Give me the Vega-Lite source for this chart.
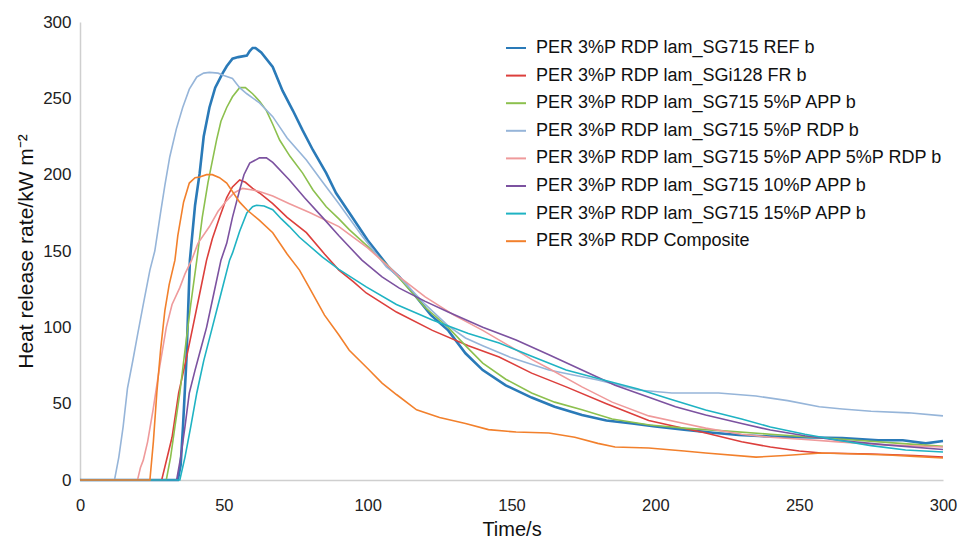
{
"$schema": "https://vega.github.io/schema/vega-lite/v6.json",
"autosize": {"type": "none"},
"padding": {"left": 80, "top": 22, "right": 15, "bottom": 65},
"width": 863,
"height": 458,
"background": "white",
"config": {"view": {"stroke": null}, "font": "Liberation Sans"},
"datasets": {
"REF": [{"t":0,"v":0},{"t":34,"v":0},{"t":35,"v":10},{"t":35.8,"v":35},{"t":37,"v":79},{"t":38.2,"v":144},{"t":40,"v":180},{"t":41.6,"v":201},{"t":43,"v":225},{"t":45,"v":244},{"t":47,"v":257},{"t":49.6,"v":266.5},{"t":51,"v":271},{"t":53,"v":276},{"t":55,"v":277},{"t":58,"v":278},{"t":59,"v":281},{"t":60,"v":283},{"t":61,"v":283},{"t":63,"v":280},{"t":67,"v":270.5},{"t":70.4,"v":255},{"t":74,"v":242},{"t":77.4,"v":229},{"t":81,"v":216},{"t":85.6,"v":201},{"t":89,"v":188},{"t":93.6,"v":175},{"t":100,"v":157},{"t":107.5,"v":139},{"t":111,"v":133},{"t":116,"v":122},{"t":122,"v":108},{"t":128,"v":98},{"t":134,"v":83},{"t":140,"v":72},{"t":148,"v":62},{"t":157,"v":54},{"t":165,"v":48},{"t":174.5,"v":42.6},{"t":183,"v":39},{"t":192,"v":37},{"t":200,"v":35},{"t":210,"v":33},{"t":220,"v":31},{"t":229,"v":29.5},{"t":240,"v":28.5},{"t":250,"v":28},{"t":265,"v":27.5},{"t":277.5,"v":26},{"t":286,"v":26},{"t":294,"v":24},{"t":300,"v":25.5}],
"FR": [{"t":0,"v":0},{"t":28.4,"v":0},{"t":32,"v":28},{"t":34.3,"v":57},{"t":37,"v":80},{"t":39.2,"v":100},{"t":41.6,"v":122},{"t":44,"v":144},{"t":46,"v":158},{"t":48.5,"v":172},{"t":51,"v":185},{"t":53,"v":192},{"t":55.5,"v":196.5},{"t":57.5,"v":195},{"t":60,"v":191},{"t":62.4,"v":188},{"t":67,"v":181},{"t":72,"v":172},{"t":78.7,"v":162},{"t":85,"v":148},{"t":90,"v":137.5},{"t":95,"v":130},{"t":99.5,"v":122.5},{"t":110,"v":110},{"t":122.5,"v":98},{"t":135,"v":88},{"t":145.7,"v":80.6},{"t":157,"v":70},{"t":169,"v":61},{"t":183,"v":50},{"t":197.7,"v":39},{"t":207,"v":35},{"t":217.5,"v":30.8},{"t":230,"v":25},{"t":240,"v":21.6},{"t":250,"v":19},{"t":257.7,"v":17.7},{"t":275,"v":17},{"t":290,"v":16},{"t":300,"v":15}],
"APP5": [{"t":0,"v":0},{"t":30,"v":0},{"t":31.5,"v":15},{"t":33,"v":35},{"t":34.7,"v":57},{"t":36.5,"v":85},{"t":38.5,"v":115},{"t":40.6,"v":144},{"t":42.5,"v":172},{"t":44.5,"v":195},{"t":47.5,"v":223},{"t":49,"v":235},{"t":51,"v":244},{"t":53,"v":251},{"t":55.5,"v":257},{"t":57.5,"v":257},{"t":60,"v":253},{"t":62.5,"v":248},{"t":64.8,"v":242},{"t":67,"v":233},{"t":69.4,"v":222.7},{"t":73,"v":212},{"t":77.4,"v":201},{"t":81,"v":190},{"t":85.6,"v":179},{"t":90,"v":171},{"t":93.6,"v":164},{"t":100,"v":153},{"t":107.5,"v":139.5},{"t":112,"v":130},{"t":120,"v":113},{"t":128,"v":100},{"t":134,"v":88},{"t":140,"v":76.6},{"t":148,"v":66},{"t":157,"v":57},{"t":165,"v":51},{"t":174.5,"v":46},{"t":185,"v":40},{"t":198,"v":36},{"t":210,"v":34},{"t":225,"v":32},{"t":240,"v":30},{"t":255,"v":28},{"t":270,"v":26},{"t":285,"v":24},{"t":300,"v":22}],
"RDP5": [{"t":0,"v":0},{"t":12,"v":0},{"t":13.5,"v":15},{"t":15,"v":35},{"t":16.5,"v":60},{"t":18.4,"v":78.6},{"t":20,"v":95},{"t":22,"v":115},{"t":24.3,"v":137.5},{"t":26,"v":150},{"t":28,"v":175},{"t":29.5,"v":193},{"t":31.2,"v":211.6},{"t":33.5,"v":230},{"t":35.7,"v":244},{"t":38,"v":256},{"t":40.6,"v":264},{"t":43,"v":266.5},{"t":45,"v":267},{"t":48,"v":266.5},{"t":50,"v":265},{"t":53,"v":263},{"t":55.5,"v":257},{"t":58,"v":253},{"t":62.4,"v":247},{"t":67,"v":238},{"t":72,"v":224},{"t":78.7,"v":209.6},{"t":84,"v":196},{"t":90,"v":181},{"t":98,"v":160},{"t":106.5,"v":139.5},{"t":111,"v":133},{"t":120,"v":115},{"t":128,"v":101},{"t":134,"v":93},{"t":140,"v":88},{"t":150,"v":80},{"t":163,"v":72},{"t":180,"v":65.5},{"t":194,"v":59},{"t":205.7,"v":57},{"t":222,"v":57},{"t":235,"v":55},{"t":246,"v":52},{"t":257,"v":48},{"t":265,"v":46.5},{"t":275,"v":45},{"t":288,"v":44},{"t":300,"v":42}],
"APPRDP": [{"t":0,"v":0},{"t":20,"v":0},{"t":21,"v":8},{"t":22,"v":13},{"t":23.5,"v":25},{"t":25.4,"v":46},{"t":27.5,"v":72},{"t":30,"v":100},{"t":32,"v":115},{"t":34.7,"v":126},{"t":36.5,"v":135},{"t":38.8,"v":144},{"t":41,"v":155},{"t":45,"v":166},{"t":48,"v":176},{"t":51,"v":183},{"t":53.5,"v":188},{"t":56.5,"v":191},{"t":60,"v":190},{"t":62.4,"v":189},{"t":67,"v":186},{"t":72.8,"v":181},{"t":80,"v":175},{"t":90,"v":166},{"t":100,"v":152},{"t":107.5,"v":139.5},{"t":111,"v":133},{"t":120,"v":120},{"t":130,"v":108},{"t":140,"v":98},{"t":150,"v":87},{"t":157,"v":79},{"t":163,"v":73},{"t":174.5,"v":61},{"t":185,"v":51},{"t":197.7,"v":42},{"t":210,"v":37},{"t":217.5,"v":34},{"t":230,"v":30},{"t":240,"v":28},{"t":252,"v":26.5},{"t":263.6,"v":25},{"t":280,"v":23},{"t":300,"v":21.6}],
"APP10": [{"t":0,"v":0},{"t":33.6,"v":0},{"t":35,"v":15},{"t":36.5,"v":35},{"t":38,"v":57},{"t":40,"v":72},{"t":42,"v":86},{"t":44,"v":100},{"t":46.5,"v":122},{"t":49,"v":144},{"t":51,"v":155},{"t":53,"v":172},{"t":55.5,"v":190},{"t":57,"v":200},{"t":59,"v":207.6},{"t":62.4,"v":211},{"t":64.8,"v":211},{"t":67,"v":208},{"t":72.8,"v":196.5},{"t":78,"v":185},{"t":84.3,"v":172},{"t":90,"v":160},{"t":98,"v":144},{"t":105,"v":133},{"t":111,"v":125.7},{"t":120,"v":117},{"t":128,"v":110},{"t":140,"v":100},{"t":151.6,"v":91.7},{"t":163,"v":82},{"t":174.5,"v":72},{"t":186,"v":62},{"t":198,"v":54},{"t":207,"v":48},{"t":217.5,"v":42.6},{"t":230,"v":37},{"t":240,"v":32.7},{"t":252,"v":29},{"t":263.6,"v":26},{"t":280,"v":23},{"t":300,"v":20}],
"APP15": [{"t":0,"v":0},{"t":34.7,"v":0},{"t":36.5,"v":15},{"t":38.5,"v":35},{"t":40.6,"v":57},{"t":43,"v":78},{"t":46,"v":100},{"t":49,"v":122},{"t":52,"v":144},{"t":53,"v":148.6},{"t":55.5,"v":163},{"t":58,"v":175},{"t":60,"v":179},{"t":61.4,"v":180},{"t":64,"v":179.5},{"t":67,"v":177},{"t":70,"v":171},{"t":72.8,"v":166},{"t":76.3,"v":159},{"t":84.3,"v":146},{"t":90,"v":138},{"t":99.5,"v":126.5},{"t":110,"v":115},{"t":122.5,"v":104.8},{"t":135,"v":96},{"t":145.7,"v":89.7},{"t":157,"v":81},{"t":169,"v":72},{"t":183,"v":65},{"t":194,"v":59.6},{"t":205,"v":53},{"t":217.5,"v":45.8},{"t":230,"v":40},{"t":240,"v":34.7},{"t":252,"v":30},{"t":263.6,"v":26},{"t":275,"v":22.5},{"t":287,"v":19.6},{"t":300,"v":18.3}],
"COMP": [{"t":0,"v":0},{"t":24.3,"v":0},{"t":25.5,"v":25},{"t":26.7,"v":57},{"t":28,"v":85},{"t":29.5,"v":111},{"t":31,"v":128},{"t":33,"v":144},{"t":34,"v":160},{"t":36,"v":182},{"t":38,"v":194.5},{"t":40,"v":198},{"t":41.6,"v":198.5},{"t":44,"v":200},{"t":46,"v":200},{"t":48.5,"v":198},{"t":51,"v":194.5},{"t":55.5,"v":182},{"t":58,"v":177},{"t":62.4,"v":170},{"t":67,"v":162},{"t":72,"v":148},{"t":76.3,"v":137.5},{"t":80,"v":125},{"t":85,"v":108},{"t":90,"v":95},{"t":93.6,"v":85},{"t":100,"v":73},{"t":105,"v":63.5},{"t":110,"v":56},{"t":117,"v":46},{"t":125,"v":41},{"t":134,"v":37},{"t":142,"v":33},{"t":151.6,"v":31.4},{"t":163,"v":30.8},{"t":172,"v":28},{"t":180,"v":24},{"t":186,"v":21.6},{"t":197.7,"v":21},{"t":210,"v":19},{"t":217.5,"v":17.7},{"t":235,"v":15},{"t":245,"v":16},{"t":257.7,"v":17.7},{"t":270,"v":17},{"t":281,"v":16.4},{"t":290,"v":15.5},{"t":300,"v":14.4}]
},
"encoding": {
  "x": {"field": "t", "type": "quantitative", "scale": {"domain": [0, 300], "nice": false},
        "axis": {"title": "Time/s", "values": [0,50,100,150,200,250,300], "grid": false, "ticks": false, "labelFlush": false, "labelOverlap": false,
                 "domainColor": "#cfcfcf", "domainWidth": 1.5, "labelFontSize": 16.5, "labelColor": "#222", "labelPadding": 17,
                 "titleFontSize": 20, "titleFontWeight": "normal", "titleColor": "#111", "titlePadding": 6}},
  "y": {"field": "v", "type": "quantitative", "scale": {"domain": [0, 300], "nice": false},
        "axis": {"title": "Heat release rate/kW m⁻²", "values": [0,50,100,150,200,250,300], "grid": false, "ticks": false, "labelFlush": false, "labelOverlap": false,
                 "domainColor": "#cfcfcf", "domainWidth": 1.5, "labelFontSize": 17, "labelColor": "#222", "labelPadding": 9,
                 "titleFontSize": 21, "titleFontWeight": "normal", "titleColor": "#111", "titlePadding": 6}}
},
"layer": [
{"data": {"name": "REF"}, "mark": {"type": "line", "strokeWidth": 2.6},
 "encoding": {"color": {"datum": "PER 3%P RDP lam_SG715 REF b", "type": "nominal",
   "scale": {"domain": ["PER 3%P RDP lam_SG715 REF b","PER 3%P RDP lam_SGi128 FR b","PER 3%P RDP lam_SG715 5%P APP b","PER 3%P RDP lam_SG715 5%P RDP b","PER 3%P RDP lam_SG715 5%P APP 5%P RDP b","PER 3%P RDP lam_SG715 10%P APP b","PER 3%P RDP lam_SG715 15%P APP b","PER 3%P RDP Composite"],
             "range": ["#2a7ab8","#dc3f3c","#8cc04e","#96b5d9","#ef9a9b","#7c52a0","#1fb3c3","#f2802c"]},
   "legend": {"title": null, "orient": "none", "legendX": 425, "legendY": 15, "symbolType": "stroke", "symbolSize": 400, "symbolStrokeWidth": 2,
              "labelFontSize": 18, "labelColor": "#111", "labelOffset": 9, "rowPadding": 7.6, "labelLimit": 500}}}},
{"data": {"name": "FR"}, "mark": {"type": "line", "strokeWidth": 1.6}, "encoding": {"color": {"datum": "PER 3%P RDP lam_SGi128 FR b", "type": "nominal"}}},
{"data": {"name": "APP5"}, "mark": {"type": "line", "strokeWidth": 1.6}, "encoding": {"color": {"datum": "PER 3%P RDP lam_SG715 5%P APP b", "type": "nominal"}}},
{"data": {"name": "RDP5"}, "mark": {"type": "line", "strokeWidth": 1.6}, "encoding": {"color": {"datum": "PER 3%P RDP lam_SG715 5%P RDP b", "type": "nominal"}}},
{"data": {"name": "APPRDP"}, "mark": {"type": "line", "strokeWidth": 1.6}, "encoding": {"color": {"datum": "PER 3%P RDP lam_SG715 5%P APP 5%P RDP b", "type": "nominal"}}},
{"data": {"name": "APP10"}, "mark": {"type": "line", "strokeWidth": 1.6}, "encoding": {"color": {"datum": "PER 3%P RDP lam_SG715 10%P APP b", "type": "nominal"}}},
{"data": {"name": "APP15"}, "mark": {"type": "line", "strokeWidth": 1.6}, "encoding": {"color": {"datum": "PER 3%P RDP lam_SG715 15%P APP b", "type": "nominal"}}},
{"data": {"name": "COMP"}, "mark": {"type": "line", "strokeWidth": 1.6}, "encoding": {"color": {"datum": "PER 3%P RDP Composite", "type": "nominal"}}}
]
}
